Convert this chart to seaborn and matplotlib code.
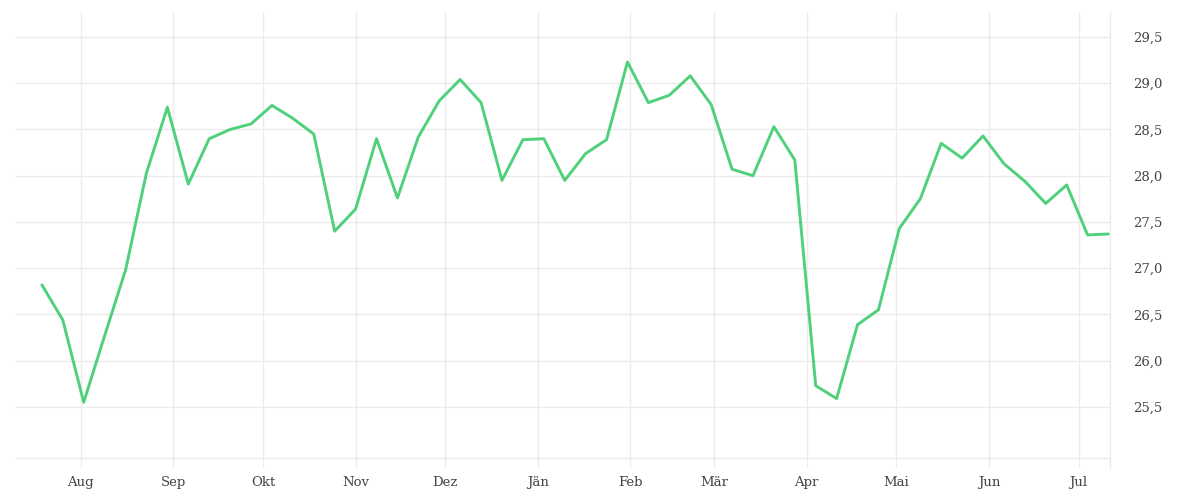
import pandas as pd
import seaborn as sns
import matplotlib.pyplot as plt
import matplotlib.dates as mdates
from matplotlib.ticker import FuncFormatter, FixedLocator

# weekly values
wochen = pd.date_range("2022-07-19", periods=52, freq="7D")
werte = [26.82, 26.44, 25.55, 26.27, 26.98, 28.03, 28.74, 27.91, 28.40, 28.50,
         28.56, 28.76, 28.62, 28.45, 27.40, 27.64, 28.40, 27.76, 28.42, 28.81,
         29.04, 28.79, 27.95, 28.39, 28.40, 27.95, 28.24, 28.39, 29.23, 28.79,
         28.87, 29.08, 28.77, 28.07, 28.00, 28.53, 28.17, 25.73, 25.59, 26.39,
         26.55, 27.43, 27.75, 28.35, 28.19, 28.43, 28.13, 27.94, 27.70, 27.90,
         27.36, 27.37]
monate = ["Jän", "Feb", "Mär", "Apr", "Mai", "Jun",
          "Jul", "Aug", "Sep", "Okt", "Nov", "Dez"]
y_ticks = [25.5, 26.0, 26.5, 27.0, 27.5, 28.0, 28.5, 29.0, 29.5]

df = pd.DataFrame({"datum": wochen, "wert": werte})

sns.set_theme(style="white")
plt.rcParams['font.family'] = ['DejaVu Serif']

grid = "#ebebeb"
textfarbe = "#444444"

fig = plt.figure(figsize=(12, 5), dpi=100)
ax = fig.add_axes([0.0125, 0.064, 0.9125, 0.912])

sns.lineplot(data=df, x="datum", y="wert", color="#4fd17b", linewidth=2.1, ax=ax)

ax.set_xlim(pd.Timestamp("2022-07-10"), wochen[-1] + pd.Timedelta(days=0.5))
ax.set_ylim(24.84, 29.77)

ax.yaxis.set_major_locator(FixedLocator(y_ticks))
ax.yaxis.set_major_formatter(FuncFormatter(
    lambda v, pos: f"{v:.1f}".replace(".", ",")))
ax.yaxis.tick_right()

ax.xaxis.set_major_locator(mdates.MonthLocator())
ax.xaxis.set_major_formatter(FuncFormatter(
    lambda v, pos: monate[mdates.num2date(v).month - 1]))

ax.grid(True, color=grid, linewidth=1)
ax.axhline(24.95, color=grid, linewidth=1, zorder=0)
ax.tick_params(axis="both", length=0, labelsize=9.5, labelcolor=textfarbe)
ax.tick_params(axis="x", pad=6)
ax.tick_params(axis="y", pad=17)

for s in ["top", "left", "bottom"]:
    ax.spines[s].set_visible(False)
ax.spines["right"].set_color(grid)
ax.spines["right"].set_linewidth(1)

ax.set_xlabel("")
ax.set_ylabel("")

fig.savefig("out.png", dpi=100)
